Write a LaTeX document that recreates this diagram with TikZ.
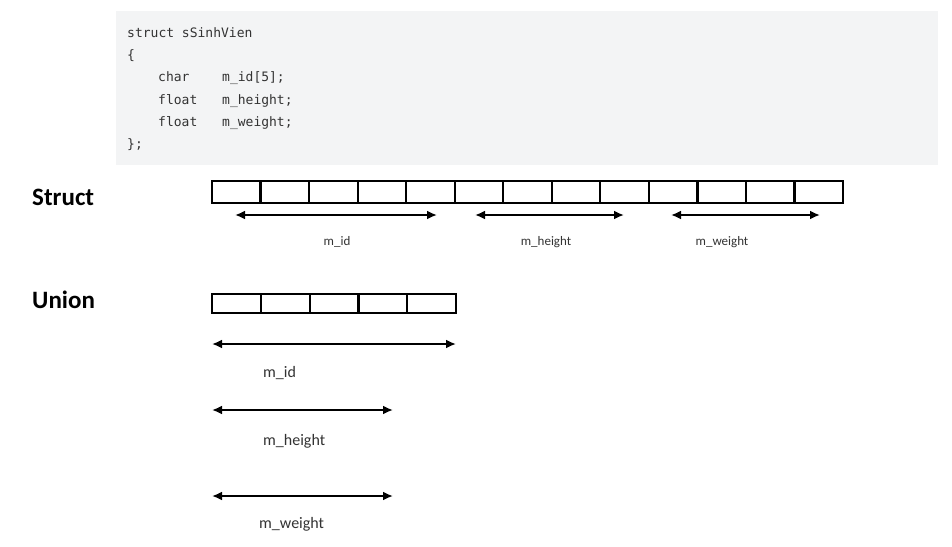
\documentclass[tikz,border=0pt]{standalone}
\usepackage{fontspec}
\setmainfont{Carlito}
\newfontfamily\codefont{DejaVu Sans Mono}
\usetikzlibrary{arrows.meta}
\definecolor{codebg}{HTML}{F3F4F5}
\definecolor{codefg}{HTML}{333333}
\tikzset{
  cell/.style={draw=black, line width=2.2pt, minimum height=22pt, inner sep=0pt, outer sep=0pt, anchor=north west},
  ucell/.style={draw=black, line width=2.2pt, minimum height=19pt, inner sep=0pt, outer sep=0pt, anchor=north west},
  span/.style={line width=2.6pt, {Latex[length=10pt,width=9pt]}-{Latex[length=10pt,width=9pt]}},
  code/.style={font=\codefont\fontsize{13}{13}\selectfont, text=codefg, anchor=base west, inner sep=0pt},
  slabel/.style={font=\fontsize{13}{13}\selectfont, text=codefg, anchor=base, inner sep=0pt},
  ulabel/.style={font=\fontsize{16}{16}\selectfont, text=codefg, anchor=base west, inner sep=0pt},
  head/.style={font=\bfseries\fontsize{25}{25}\selectfont, anchor=base west, inner sep=0pt}
}
\begin{document}
\begin{tikzpicture}[x=1pt,y=-1pt]
\useasboundingbox (0,0) rectangle (952,546);
\fill[white] (0,0) rectangle (952,546);
% code box
\node[fill=codebg, minimum width=822pt, minimum height=154pt, anchor=north west, inner sep=0pt] (codebox) at (116,11) {};
\node[code] (l1) at (127,37) {struct sSinhVien};
\node[code] (l2) at (127,59) {\{};
\node[code] (l3a) at (158,81) {char};
\node[code] (l3b) at (222,81) {m\_id[5];};
\node[code] (l4a) at (158,104) {float};
\node[code] (l4b) at (222,104) {m\_height;};
\node[code] (l5a) at (158,126) {float};
\node[code] (l5b) at (222,126) {m\_weight;};
\node[code] (l6) at (127,148) {\};};
% headings
\node[head] (hs) at (32,205) {Struct};
\node[head] (hu) at (32,308) {Union};
% struct cells
\foreach \i in {0,...,12} {
  \node[cell, minimum width=48.54pt] (s\i) at ({212+48.54*\i},181) {};
}
\coordinate (a1l) at (235,215); \coordinate (a1r) at (437,215);
\coordinate (a2l) at (475,215); \coordinate (a2r) at (624,215);
\coordinate (a3l) at (671,215); \coordinate (a3r) at (820,215);
\draw[span] (a1l) -- (a1r);
\draw[span] (a2l) -- (a2r);
\draw[span] (a3l) -- (a3r);
\node[slabel] (t1) at (337,245) {m\_id};
\node[slabel] (t2) at (546,245) {m\_height};
\node[slabel] (t3) at (722,245) {m\_weight};
% union cells
\foreach \i in {0,...,4} {
  \node[ucell, minimum width=48.8pt] (u\i) at ({212+48.8*\i},294) {};
}
\coordinate (b1l) at (212,344); \coordinate (b1r) at (456,344);
\coordinate (b2l) at (212,410); \coordinate (b2r) at (393,410);
\coordinate (b3l) at (212,496); \coordinate (b3r) at (393,496);
\draw[span] (b1l) -- (b1r);
\draw[span] (b2l) -- (b2r);
\draw[span] (b3l) -- (b3r);
\node[ulabel] (v1) at (263,377) {m\_id};
\node[ulabel] (v2) at (263,445) {m\_height};
\node[ulabel] (v3) at (259,528) {m\_weight};
\end{tikzpicture}
\end{document}
